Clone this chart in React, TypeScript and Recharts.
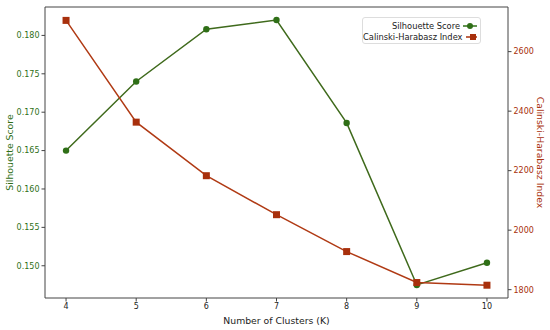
import React from 'react';
import { ComposedChart, Line, XAxis, YAxis } from 'recharts';

const clusters = [4, 5, 6, 7, 8, 9, 10];
const silhouette = [0.165, 0.174, 0.1808, 0.182, 0.1686, 0.1475, 0.1504];
const calinski = [2705, 2363, 2183, 2052, 1928, 1824, 1815];
const xTicks = [4, 5, 6, 7, 8, 9, 10];
const leftTicks = [0.15, 0.155, 0.16, 0.165, 0.17, 0.175, 0.18];
const rightTicks = [1800, 2000, 2200, 2400, 2600];

const data = clusters.map((k, i) => ({ k, sil: silhouette[i], ch: calinski[i] }));

const GREEN = '#2f6f17';
const GREEN_LINE = '#3f6a1c';
const RED = '#a8300c';
const RED_LINE = '#b03a14';
const AXIS = '#444';
const FONT = 'DejaVu Sans, sans-serif';

const Square = (props: any) => {
  const { cx, cy } = props;
  if (cx == null || cy == null) return null;
  return <rect x={cx - 3.5} y={cy - 3.5} width={7} height={7} fill={RED} />;
};

const LegendBox = () => (
  <div
    style={{
      position: 'absolute',
      left: 362,
      top: 17,
      width: 119,
      height: 27,
      border: '1px solid #ddd',
      borderRadius: 3,
      background: 'rgba(255,255,255,0.8)',
      fontFamily: FONT,
      fontSize: 8.3,
      color: '#222',
      boxSizing: 'border-box',
      padding: '2px 3px 0 0',
      whiteSpace: 'nowrap',
    }}
  >
    {[
      { label: 'Silhouette Score', color: GREEN, sq: false },
      { label: 'Calinski-Harabasz Index', color: RED, sq: true },
    ].map((it) => (
      <div key={it.label} style={{ display: 'flex', justifyContent: 'flex-end', alignItems: 'center', height: 11 }}>
        <span style={{ marginRight: 3 }}>{it.label}</span>
        <svg width={14} height={8}>
          <line x1={0} y1={4} x2={14} y2={4} stroke={it.color} strokeWidth={1.5} />
          {it.sq ? (
            <rect x={4} y={1} width={6} height={6} fill={it.color} />
          ) : (
            <circle cx={7} cy={4} r={3} fill={it.color} />
          )}
        </svg>
      </div>
    ))}
  </div>
);

export default function App() {
  return (
    <div style={{ position: 'absolute', left: 0, top: 0, width: 550, height: 330, background: '#fff' }}>
      <ComposedChart width={550} height={330} data={data} margin={{ top: 6, right: 0, left: 0, bottom: 0 }}>
        <XAxis
          xAxisId="top"
          orientation="top"
          dataKey="k"
          type="number"
          domain={[3.7, 10.3]}
          tick={false}
          tickLine={false}
          height={1}
          stroke={AXIS}
        />
        <XAxis
          dataKey="k"
          type="number"
          domain={[3.7, 10.3]}
          ticks={xTicks}
          allowDataOverflow
          height={32}
          stroke={AXIS}
          tickSize={3.5}
          tick={{ fill: '#222', fontSize: 8, fontFamily: FONT }}
          label={{ value: 'Number of Clusters (K)', position: 'insideBottom', offset: 6, fill: '#222', fontSize: 9.3, fontFamily: FONT }}
        />
        <YAxis
          yAxisId="left"
          orientation="left"
          type="number"
          domain={[0.1458, 0.1837]}
          ticks={leftTicks}
          allowDataOverflow
          width={45}
          stroke={AXIS}
          tickSize={3.5}
          tickFormatter={(v: number) => v.toFixed(3)}
          tick={{ fill: GREEN, fontSize: 8, fontFamily: FONT }}
          label={{ value: 'Silhouette Score', angle: -90, position: 'insideLeft', offset: 0, dx: 10, fill: GREEN, fontSize: 9.3, fontFamily: FONT, style: { textAnchor: 'middle' } }}
        />
        <YAxis
          yAxisId="right"
          orientation="right"
          type="number"
          domain={[1772, 2750]}
          ticks={rightTicks}
          allowDataOverflow
          width={42}
          stroke={AXIS}
          tickSize={3.5}
          tick={{ fill: RED, fontSize: 8, fontFamily: FONT }}
          label={{ value: 'Calinski-Harabasz Index', angle: 90, position: 'insideRight', offset: 0, dx: -10, fill: RED, fontSize: 9.3, fontFamily: FONT, style: { textAnchor: 'middle' } }}
        />
        <Line
          yAxisId="left"
          dataKey="sil"
          stroke={GREEN_LINE}
          strokeWidth={1.5}
          dot={{ r: 3.2, fill: GREEN, stroke: GREEN, strokeWidth: 0 }}
          isAnimationActive={false}
        />
        <Line
          yAxisId="right"
          dataKey="ch"
          stroke={RED_LINE}
          strokeWidth={1.5}
          dot={<Square />}
          isAnimationActive={false}
        />
      </ComposedChart>
      <LegendBox />
    </div>
  );
}
